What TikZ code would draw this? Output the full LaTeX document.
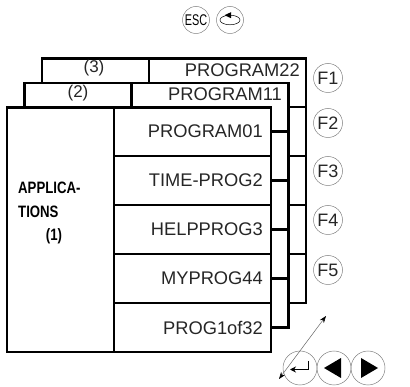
\documentclass[tikz,border=0pt]{standalone}
\usepackage{fontspec}
\setmainfont{Liberation Sans}
\usetikzlibrary{arrows.meta}
\begin{document}
\begin{tikzpicture}[x=1pt,y=-1pt,
  board/.style={draw=black,line width=2.8pt,fill=white},
  sep/.style={draw=black,line width=2.8pt},
  lbl/.style={font=\fontsize{18.3}{21}\selectfont,anchor=east,inner sep=0pt,text=black!85},
  num/.style={font=\fontsize{17}{19}\selectfont,inner sep=0pt,text=black!85},
  apl/.style={font=\fontsize{16.5}{18}\selectfont\bfseries,inner sep=0pt,anchor=west},
  key/.style={circle,draw=black!50,line width=0.5pt,minimum size=29pt,inner sep=0pt,font=\fontsize{18}{20}\selectfont,text=black!85},
  bigkey/.style={circle,draw=black!50,line width=0.5pt,minimum size=34pt,inner sep=0pt},
  smallkey/.style={circle,draw=black!50,line width=0.5pt,minimum size=27pt,inner sep=0pt}]
\useasboundingbox (0,0) rectangle (410,387);
% board 3
\draw[board] (42,58.5) rectangle (306,303);
\draw[sep] (149,58.5) -- (149,303);
\foreach \y in {107,156,205,254} \draw[sep] (149,\y) -- (306,\y);
% board 2
\draw[board] (24.5,83) rectangle (288.5,327.5);
\draw[sep] (131.5,83) -- (131.5,327.5);
\foreach \y in {131.5,180.5,229.5,278.5} \draw[sep] (131.5,\y) -- (288.5,\y);
% front board
\draw[board] (7,107.5) rectangle (271,352);
\draw[sep] (114,107.5) -- (114,352);
\foreach \y in {156,205,254,303} \draw[sep] (114,\y) -- (271,\y);
% texts
\node[num] (n3) at (94,68) {(3)};
\node[lbl] (p22) at (300,70) {PROGRAM22};
\node[num] (n2) at (78,93) {(2)};
\node[lbl] (p11) at (282,94) {PROGRAM11};
\node[lbl] (p01) at (263,131) {PROGRAM01};
\node[lbl] (r2) at (263,180.5) {TIME-PROG2};
\node[lbl] (r3) at (263,229.5) {HELPPROG3};
\node[lbl] (r4) at (263,278.5) {MYPROG44};
\node[lbl] (r5) at (263,328) {PROG1of32};
\node[apl] (a1) at (18,188) {\scalebox{0.8}[1]{APPLICA-}};
\node[apl] (a2) at (18,212) {\scalebox{0.8}[1]{TIONS}};
\node[apl,anchor=center] (a3) at (54,236) {\scalebox{0.8}[1]{(1)}};
% F keys
\node[key] (f1) at (328,78) {F1};
\node[key] (f2) at (328,123) {F2};
\node[key] (f3) at (328,171) {F3};
\node[key] (f4) at (328,220) {F4};
\node[key] (f5) at (328,270) {F5};
% top keys
\node[smallkey,font=\fontsize{15.5}{16}\selectfont] (esc) at (196,20) {\scalebox{0.7}[1]{ESC}};
\node[smallkey] (rot) at (230,20) {};
\draw[line width=0.5pt] (rot.center) ellipse (10 and 4.8);
\fill ([shift={(-5.5,-4.8)}]rot.center) -- ([shift={(1,-7.8)}]rot.center) -- ([shift={(1,-1.8)}]rot.center) -- cycle;
% bottom keys
\node[bigkey] (ent) at (300,368) {};
\node[bigkey] (lt) at (334,368) {};
\node[bigkey] (rt) at (368,368) {};
\draw[line width=1pt,-{Stealth[length=6pt,width=6pt]}] ([shift={(8,-7)}]ent.center) -- ([shift={(8,1.5)}]ent.center) -- ([shift={(-10,1.5)}]ent.center);
\fill ([shift={(-10,0)}]lt.center) -- ([shift={(7,-10)}]lt.center) -- ([shift={(7,10)}]lt.center) -- cycle;
\fill ([shift={(10,0)}]rt.center) -- ([shift={(-7,-10)}]rt.center) -- ([shift={(-7,10)}]rt.center) -- cycle;
% diagonal arrow
\coordinate (da) at (326,316);
\coordinate (db) at (279,379);
\draw[black!60,line width=0.5pt,{Stealth[black,length=7pt,width=5pt]}-{Stealth[black,length=7pt,width=5pt]}] (da) -- (db);
\end{tikzpicture}
\end{document}
